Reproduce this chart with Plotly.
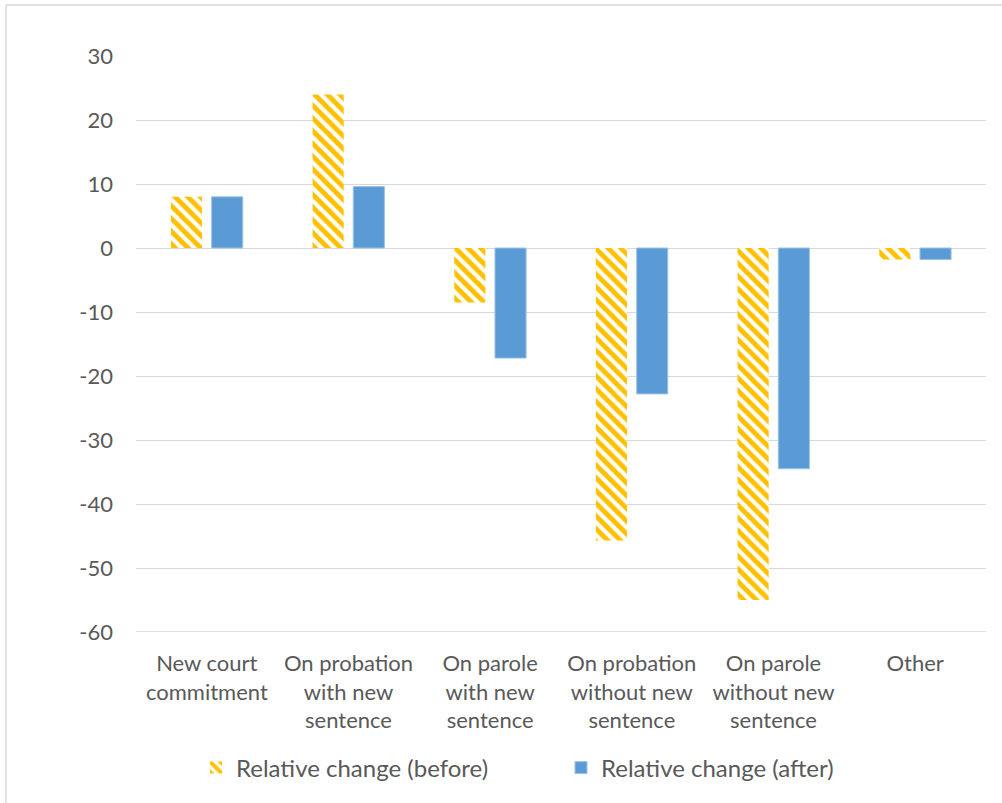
import plotly.graph_objects as go

categories = [
    "New court<br>commitment",
    "On probation<br>with new<br>sentence",
    "On parole<br>with new<br>sentence",
    "On probation<br>without new<br>sentence",
    "On parole<br>without new<br>sentence",
    "Other",
]
before_vals = [8.0, 24.0, -8.5, -45.7, -55.0, -1.8]
after_vals = [8.0, 9.6, -17.2, -22.8, -34.5, -1.8]
tick_vals = [30, 20, 10, 0, -10, -20, -30, -40, -50, -60]
tick_text = ["30", "20", "10", "0", "-10", "-20", "-30", "-40", "-50", "-60"]

FONT = "Lato"
TXT = "#595959"
GRID = "#D9D9D9"

fig = go.Figure()
fig.add_trace(go.Bar(
    x=categories, y=before_vals, name="Relative change (before)",
    marker=dict(
        color="#FFC000",
        line=dict(width=0),
        pattern=dict(shape="\\", fillmode="replace", bgcolor="white",
                     fgcolor="#FFC000", size=9, solidity=0.55),
    ),
))
fig.add_trace(go.Bar(
    x=categories, y=after_vals, name="Relative change (after)",
    marker=dict(color="#5B9BD5", line=dict(width=1, color="#9DC3E6")),
))

fig.update_layout(
    width=1002, height=803,
    margin=dict(l=136, r=16, t=56, b=171),
    paper_bgcolor="white", plot_bgcolor="white",
    barmode="group", bargap=0.425, bargroupgap=0.236,
    font=dict(family=FONT, size=22, color=TXT),
    showlegend=True,
    legend=dict(orientation="h", x=0.5, xanchor="center", y=-0.197, yanchor="top",
                font=dict(family=FONT, size=24, color=TXT),
                entrywidth=320, entrywidthmode="pixels",
                itemwidth=30, traceorder="normal"),
    xaxis=dict(showgrid=False, showline=False, ticks="", tickfont=dict(size=22, color=TXT),
               tickangle=0, ticklabelstandoff=16),
    yaxis=dict(range=[-60, 30], tickvals=tick_vals, ticktext=tick_text, showgrid=True,
               gridcolor=GRID, gridwidth=1.3, zeroline=True, zerolinecolor=GRID,
               zerolinewidth=1.3, showline=False, ticks="", ticklabelstandoff=22,
               tickfont=dict(size=22, color=TXT)),
    shapes=[
        dict(type="line", xref="paper", yref="paper", x0=-0.153, x1=1.03, y0=1.0885, y1=1.0885,
             line=dict(color=GRID, width=1.5)),
        dict(type="line", xref="paper", yref="paper", x0=-0.153, x1=-0.153, y0=1.0885, y1=-0.32,
             line=dict(color=GRID, width=1.5)),
        dict(type="line", xref="paper", yref="y", x0=0, x1=1, y0=-60, y1=-60,
             line=dict(color=GRID, width=1.3), layer="below"),
    ],
)

fig.write_html("out.html")
